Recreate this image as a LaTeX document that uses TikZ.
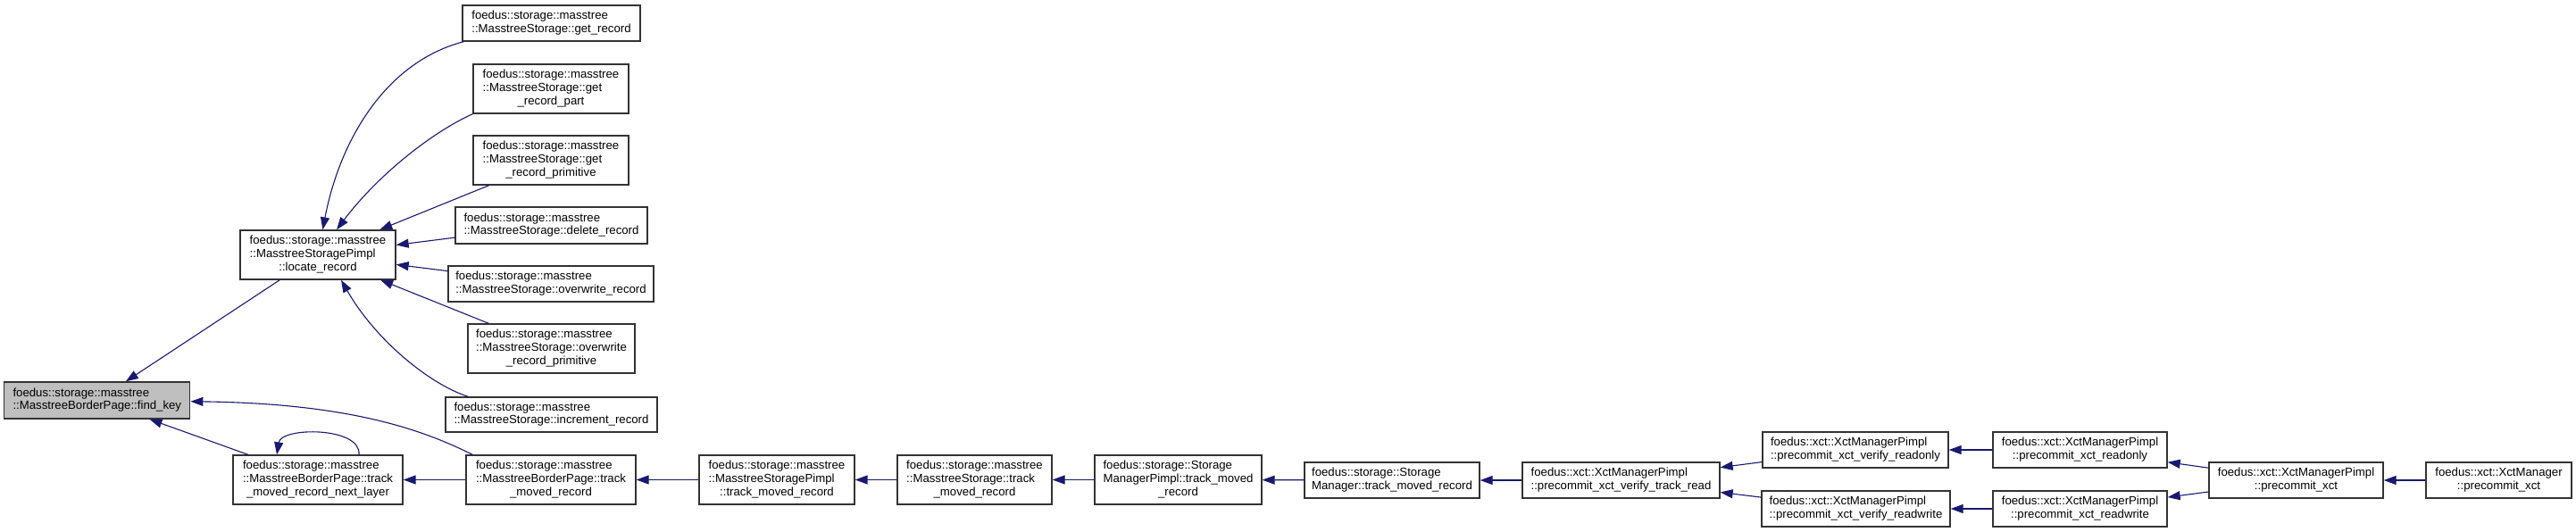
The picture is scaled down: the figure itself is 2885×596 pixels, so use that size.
\documentclass[tikz,border=0pt]{standalone}
\usepackage{fontspec}
\setmainfont{Liberation Sans}
\usetikzlibrary{arrows.meta}
\definecolor{edgeblue}{HTML}{191970}
\newcommand{\fnl}[2]{\begin{tabular}{@{}l@{}}#1\\\multicolumn{1}{@{}c@{}}{#2}\end{tabular}}
\tikzset{
    fnbox/.style={draw=black!80, line width=1.3pt, fill=white, inner sep=0pt,
        font=\fontsize{13.2}{14.7}\selectfont},
    calls/.style={draw=edgeblue, line width=1.1pt,
        -{Triangle[length=14pt,width=10pt,fill=edgeblue]}}
}

\begin{document}
\begin{tikzpicture}[x=1pt,y=-1pt]
                \useasboundingbox[fill=white] (0,0) rectangle (2885,596);
                \node[fnbox, fill=black!25, minimum width=208pt, minimum height=41pt] (fk) at (108.8,448.5)
                    {\fnl{foedus::storage::masstree}{::MasstreeBorderPage::find\_key}};
                \node[fnbox, minimum width=174pt, minimum height=55pt] (lr) at (356,285.5)
                    {\fnl{foedus::storage::masstree\\::MasstreeStoragePimpl}{::locate\_record}};
                \node[fnbox, minimum width=199pt, minimum height=40pt] (gr) at (617.5,26)
                    {\fnl{foedus::storage::masstree}{::MasstreeStorage::get\_record}};
                \node[fnbox, minimum width=174pt, minimum height=55pt] (grp) at (617,99.5)
                    {\fnl{foedus::storage::masstree\\::MasstreeStorage::get}{\_record\_part}};
                \node[fnbox, minimum width=174pt, minimum height=55pt] (grpr) at (617,179.5)
                    {\fnl{foedus::storage::masstree\\::MasstreeStorage::get}{\_record\_primitive}};
                \node[fnbox, minimum width=215pt, minimum height=41pt] (dr) at (617.5,252.5)
                    {\fnl{foedus::storage::masstree}{::MasstreeStorage::delete\_record}};
                \node[fnbox, minimum width=230pt, minimum height=40pt] (ow) at (617,318)
                    {\fnl{foedus::storage::masstree}{::MasstreeStorage::overwrite\_record}};
                \node[fnbox, minimum width=187pt, minimum height=55pt] (owp) at (617.5,390.5)
                    {\fnl{foedus::storage::masstree\\::MasstreeStorage::overwrite}{\_record\_primitive}};
                \node[fnbox, minimum width=237pt, minimum height=39pt] (inc) at (617.5,464.5)
                    {\fnl{foedus::storage::masstree}{::MasstreeStorage::increment\_record}};
                \node[fnbox, minimum width=190pt, minimum height=55pt] (nl) at (356,537.5)
                    {\fnl{foedus::storage::masstree\\::MasstreeBorderPage::track}{\_moved\_record\_next\_layer}};
                \node[fnbox, minimum width=190pt, minimum height=55pt] (bp) at (617,537.5)
                    {\fnl{foedus::storage::masstree\\::MasstreeBorderPage::track}{\_moved\_record}};
                \node[fnbox, minimum width=174pt, minimum height=55pt] (sp) at (870,537.5)
                    {\fnl{foedus::storage::masstree\\::MasstreeStoragePimpl}{::track\_moved\_record}};
                \node[fnbox, minimum width=173pt, minimum height=55pt] (ms) at (1091.5,537.5)
                    {\fnl{foedus::storage::masstree\\::MasstreeStorage::track}{\_moved\_record}};
                \node[fnbox, minimum width=187pt, minimum height=55pt] (smp) at (1319.5,537.5)
                    {\fnl{foedus::storage::Storage\\ManagerPimpl::track\_moved}{\_record}};
                \node[fnbox, minimum width=196pt, minimum height=40pt] (sm) at (1559,538)
                    {\fnl{foedus::storage::Storage}{Manager::track\_moved\_record}};
                \node[fnbox, minimum width=221pt, minimum height=40pt] (vtr) at (1815.5,538)
                    {\fnl{foedus::xct::XctManagerPimpl}{::precommit\_xct\_verify\_track\_read}};
                \node[fnbox, minimum width=208pt, minimum height=40pt] (vro) at (2078,504)
                    {\fnl{foedus::xct::XctManagerPimpl}{::precommit\_xct\_verify\_readonly}};
                \node[fnbox, minimum width=211pt, minimum height=40pt] (vrw) at (2078.5,570)
                    {\fnl{foedus::xct::XctManagerPimpl}{::precommit\_xct\_verify\_readwrite}};
                \node[fnbox, minimum width=195pt, minimum height=40pt] (ro) at (2329.5,504)
                    {\fnl{foedus::xct::XctManagerPimpl}{::precommit\_xct\_readonly}};
                \node[fnbox, minimum width=195pt, minimum height=40pt] (rw) at (2329.5,570)
                    {\fnl{foedus::xct::XctManagerPimpl}{::precommit\_xct\_readwrite}};
                \node[fnbox, minimum width=195pt, minimum height=40pt] (pc) at (2571.5,538)
                    {\fnl{foedus::xct::XctManagerPimpl}{::precommit\_xct}};
                \node[fnbox, minimum width=163pt, minimum height=40pt] (xm) at (2798.5,538)
                    {\fnl{foedus::xct::XctManager}{::precommit\_xct}};
                \draw[calls] (lr) -- (fk);
                \draw[calls] (nl) -- (fk);
                \draw[calls] ([xshift=8pt]bp.north west) .. controls (480,485) and (400,452) .. (fk);
                \draw[calls] ([xshift=46pt]nl.north) .. controls (405,478) and (315,478) .. ([xshift=-46pt]nl.north);
                \draw[calls] ([xshift=2pt]gr.south west) .. controls (430,70) and (380,160) .. (lr);
                \draw[calls] (grp.south west) .. controls (480,150) and (420,200) .. (lr);
                \draw[calls] (grpr) -- (lr);
                \draw[calls] (dr) -- (lr);
                \draw[calls] (ow) -- (lr);
                \draw[calls] (owp) -- (lr);
                \draw[calls] ([xshift=26pt]inc.north west) .. controls (480,430) and (420,380) .. ([xshift=26pt]lr.south);
                \draw[calls] (bp) -- (nl);
                \draw[calls] (sp) -- (bp);
                \draw[calls] (ms) -- (sp);
                \draw[calls] (smp) -- (ms);
                \draw[calls] (sm) -- (smp);
                \draw[calls] (vtr) -- (sm);
                \draw[calls] (vro) -- (vtr);
                \draw[calls] (vrw) -- (vtr);
                \draw[calls] (ro) -- (vro);
                \draw[calls] (rw) -- (vrw);
                \draw[calls] (pc) -- (ro);
                \draw[calls] (pc) -- (rw);
                \draw[calls] (xm) -- (pc);
\end{tikzpicture}
\end{document}
